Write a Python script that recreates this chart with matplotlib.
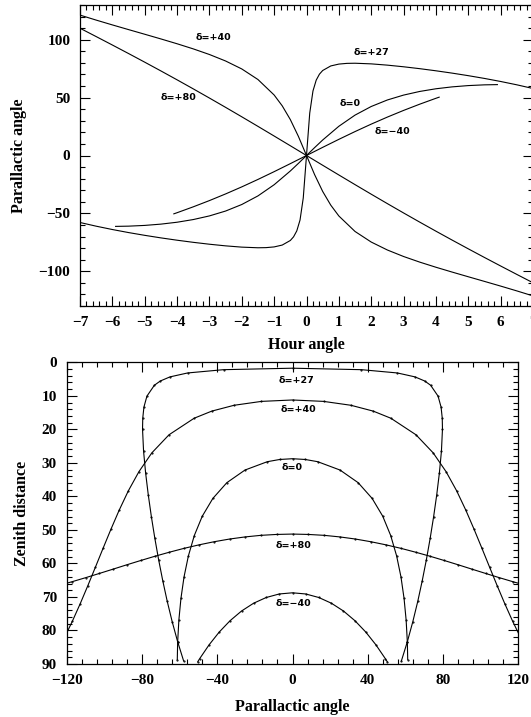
import matplotlib
matplotlib.use("Agg")
import matplotlib.pyplot as plt
from matplotlib.ticker import MultipleLocator

# ---- data (hour angle [h], parallactic angle [deg], zenith distance [deg]) ----
# delta = +27
ha_p27 = [-7, -6.5, -6, -5.5, -5, -4.5, -4, -3.5, -3, -2.5, -2, -1.5, -1.25, -1, -0.75, -0.5, -0.4, -0.3, -0.2, -0.1,
          0, 0.1, 0.2, 0.3, 0.4, 0.5, 0.75, 1, 1.25, 1.5, 2, 2.5, 3, 3.5, 4, 4.5, 5, 5.5, 6, 6.5, 7]
pa_p27 = [-57.87, -61.06, -63.94, -66.57, -68.96, -71.16, -73.17, -75.00, -76.64, -78.05, -79.15, -79.70, -79.58,
          -78.96, -77.36, -73.41, -70.26, -65.10, -55.75, -36.65,
          0, 36.65, 55.75, 65.10, 70.26, 73.41, 77.36, 78.96, 79.58, 79.70, 79.15, 78.05, 76.64, 75.00, 73.17,
          71.16, 68.96, 66.57, 63.94, 61.06, 57.87]
zd_p27 = [89.07, 83.31, 77.38, 71.31, 65.13, 58.85, 52.48, 46.06, 39.58, 33.06, 26.51, 19.94, 16.65, 13.36, 10.09,
          6.85, 5.58, 4.35, 3.18, 2.20,
          1.76, 2.20, 3.18, 4.35, 5.58, 6.85, 10.09, 13.36, 16.65, 19.94, 26.51, 33.06, 39.58, 46.06, 52.48,
          58.85, 65.13, 71.31, 77.38, 83.31, 89.07]

# delta = +40
ha_p40 = [-7.5, -7, -6.5, -6, -5.5, -5, -4.5, -4, -3.5, -3, -2.5, -2, -1.5, -1, -0.75, -0.5, -0.25,
          0, 0.25, 0.5, 0.75, 1, 1.5, 2, 2.5, 3, 3.5, 4, 4.5, 5, 5.5, 6, 6.5, 7, 7.5]
pa_p40 = [125.81, 121.27, 116.96, 112.80, 108.75, 104.74, 100.69, 96.52, 92.10, 87.24, 81.63, 74.76, 65.62,
          52.25, 42.89, 31.04, 16.49,
          0, -16.49, -31.04, -42.89, -52.25, -65.62, -74.76, -81.63, -87.24, -92.10, -96.52, -100.69, -104.74,
          -108.75, -112.80, -116.96, -121.27, -125.81]
zd_p40 = [87.00, 82.21, 77.20, 71.99, 66.61, 61.11, 55.51, 49.84, 44.10, 38.34, 32.64, 27.02, 21.62, 16.68,
          14.56, 12.82, 11.66,
          11.24, 11.66, 12.82, 14.56, 16.68, 21.62, 27.02, 32.64, 38.34, 44.10, 49.84, 55.51, 61.11, 66.61,
          71.99, 77.20, 82.21, 87.00]

# delta = +80
ha_p80 = [-8, -7.5, -7, -6.5, -6, -5.5, -5, -4.5, -4, -3.5, -3, -2.5, -2, -1.5, -1, -0.5,
          0, 0.5, 1, 1.5, 2, 2.5, 3, 3.5, 4, 4.5, 5, 5.5, 6, 6.5, 7, 7.5, 8]
pa_p80 = [124.16, 117.07, 109.93, 102.72, 95.44, 88.08, 80.62, 73.05, 65.37, 57.56, 49.63, 41.58, 33.42, 25.16,
          16.82, 8.43,
          0, -8.43, -16.82, -25.16, -33.42, -41.58, -49.63, -57.56, -65.37, -73.05, -80.62, -88.08, -95.44,
          -102.72, -109.93, -117.07, -124.16]
zd_p80 = [66.57, 65.44, 64.25, 63.00, 61.72, 60.41, 59.12, 57.85, 56.64, 55.49, 54.45, 53.52, 52.72, 52.09,
          51.62, 51.35,
          51.24, 51.35, 51.62, 52.09, 52.72, 53.52, 54.45, 55.49, 56.64, 57.85, 59.12, 60.41, 61.72, 63.00,
          64.25, 65.44, 66.57]

# delta = 0
ha_0 = [-5.9, -5.5, -5, -4.5, -4, -3.5, -3, -2.5, -2, -1.5, -1, -0.5, -0.25,
        0, 0.25, 0.5, 1, 1.5, 2, 2.5, 3, 3.5, 4, 4.5, 5, 5.5, 5.9]
pa_0 = [-61.23, -61.03, -60.39, -59.28, -57.64, -55.33, -52.18, -47.97, -42.33, -34.89, -25.25, -13.38, -6.80,
        0, 6.80, 13.38, 25.25, 34.89, 42.33, 47.97, 52.18, 55.33, 57.64, 59.28, 60.39, 61.03, 61.23]
zd_0 = [88.68, 83.43, 76.89, 70.40, 64.00, 57.75, 51.67, 45.93, 40.61, 35.91, 32.14, 29.65, 28.99,
        28.76, 28.99, 29.65, 32.14, 35.91, 40.61, 45.93, 51.67, 57.75, 64.00, 70.40, 76.89, 83.43, 88.68]

# delta = -40
ha_m40 = [-4.1, -4, -3.5, -3, -2.5, -2, -1.5, -1, -0.5,
          0, 0.5, 1, 1.5, 2, 2.5, 3, 3.5, 4, 4.1]
pa_m40 = [-50.39, -49.42, -44.34, -38.94, -33.19, -27.10, -20.67, -13.96, -7.04,
          0, 7.04, 13.96, 20.67, 27.10, 33.19, 38.94, 44.34, 49.42, 50.39]
zd_m40 = [89.36, 88.48, 84.29, 80.47, 77.09, 74.20, 71.87, 70.16, 69.11,
          68.76, 69.11, 70.16, 71.87, 74.20, 77.09, 80.47, 84.29, 88.48, 89.36]

labels = ["δ=+27", "δ=+40", "δ=+80", "δ=0", "δ=−40"]
top_label_pos = [(2.02, 89), (-2.89, 101.5), (-3.97, 49.7), (1.34, 44.5), (2.67, 20.3)]
bot_label_pos = [(2.1, 5.3), (2.9, 14.2), (0.6, 54.7), (-0.4, 31.5), (0.4, 71.9)]

series = [(ha_p27, pa_p27, zd_p27), (ha_p40, pa_p40, zd_p40), (ha_p80, pa_p80, zd_p80),
          (ha_0, pa_0, zd_0), (ha_m40, pa_m40, zd_m40)]

# ---- style ----
tick_font = dict(family="Liberation Serif", weight="bold", size=11)
lab_font = dict(family="Liberation Serif", weight="bold", size=11.5)
ann_font = dict(family="DejaVu Sans", weight="bold", size=6.8)

fig = plt.figure(figsize=(5.31, 7.17), dpi=100)
W, H = 531.0, 717.0
ax1 = fig.add_axes([80 / W, (H - 306) / H, 453 / W, 301 / H])
ax2 = fig.add_axes([66.7 / W, (H - 664) / H, 451.6 / W, 301.7 / H])

for ha, pa, zd in series:
    ax1.plot(ha, pa, color="black", lw=0.8)
    ax2.plot(pa, zd, color="black", lw=0.8, marker=".", ms=1.1)

for lab, (x, y) in zip(labels, top_label_pos):
    ax1.text(x, y, lab, ha="center", va="center", **ann_font)
for lab, (x, y) in zip(labels, bot_label_pos):
    ax2.text(x, y, lab, ha="center", va="center", **ann_font)

ax1.set_xlim(-7, 7)
ax1.set_ylim(-130, 130)
ax1.xaxis.set_major_locator(MultipleLocator(1))
ax1.xaxis.set_minor_locator(MultipleLocator(0.2))
ax1.yaxis.set_major_locator(MultipleLocator(50))
ax1.yaxis.set_minor_locator(MultipleLocator(10))
ax1.set_xlabel("Hour angle", labelpad=6, **lab_font)
ax1.set_ylabel("Parallactic angle", labelpad=8, **lab_font)

ax2.set_xlim(-120, 120)
ax2.set_ylim(90, 0)
ax2.xaxis.set_major_locator(MultipleLocator(40))
ax2.xaxis.set_minor_locator(MultipleLocator(8))
ax2.yaxis.set_major_locator(MultipleLocator(10))
ax2.yaxis.set_minor_locator(MultipleLocator(2))
ax2.set_xlabel("Parallactic angle", labelpad=9, **lab_font)
ax2.set_ylabel("Zenith distance", labelpad=8, **lab_font)

for ax in (ax1, ax2):
    ax.tick_params(which="both", direction="in", top=True, right=True, width=0.8)
    ax.tick_params(which="major", length=7, pad=7)
    ax.tick_params(which="minor", length=3.5)
    for sp in ax.spines.values():
        sp.set_linewidth(0.9)
    for t in ax.get_xticklabels() + ax.get_yticklabels():
        t.set_fontfamily(tick_font["family"])
        t.set_fontweight(tick_font["weight"])
        t.set_fontsize(tick_font["size"])

fig.savefig("out.png", dpi=100)
